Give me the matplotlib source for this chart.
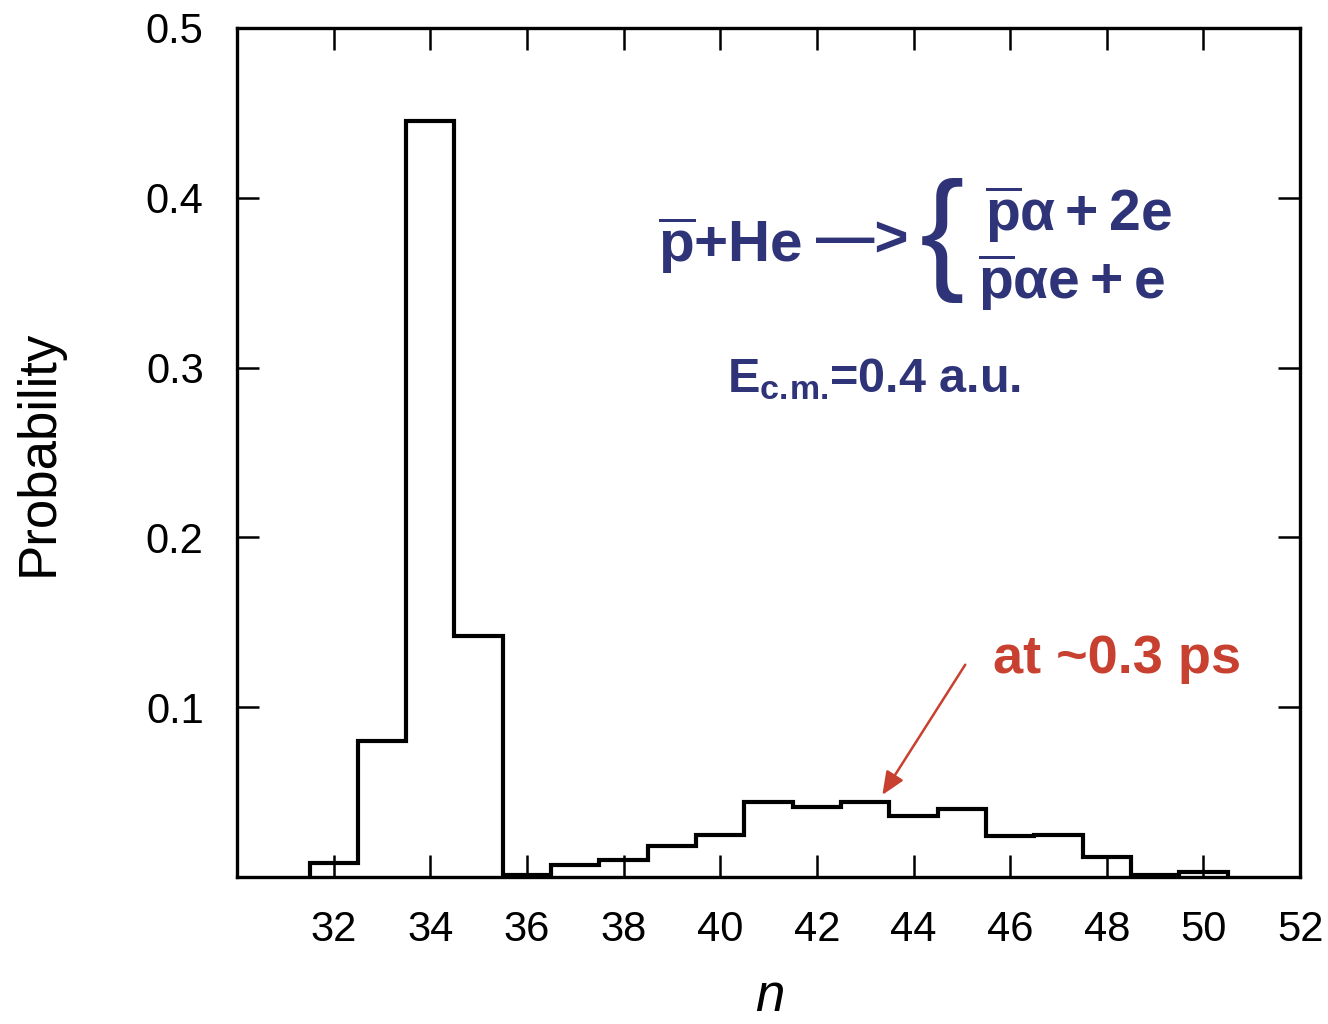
import numpy as np
import matplotlib
matplotlib.use('Agg')
import matplotlib.pyplot as plt

plt.rcParams['font.family'] = ['Liberation Sans', 'DejaVu Sans']
plt.rcParams['mathtext.fontset'] = 'custom'
plt.rcParams['mathtext.rm'] = 'Liberation Sans:bold'
plt.rcParams['mathtext.bf'] = 'Liberation Sans:bold'
plt.rcParams['mathtext.it'] = 'Liberation Sans:bold'

# histogram of final n (bins centred on integers)
n_vals = [32, 33, 34, 35, 36, 37, 38, 39, 40, 41, 42, 43, 44, 45, 46, 47, 48, 49, 50]
prob = [0.008, 0.080, 0.445, 0.142, 0.001, 0.007, 0.010, 0.018, 0.025, 0.044,
        0.041, 0.044, 0.036, 0.040, 0.024, 0.025, 0.012, 0.001, 0.003]
xticks = [32, 34, 36, 38, 40, 42, 44, 46, 48, 50, 52]
yticks = [0.1, 0.2, 0.3, 0.4, 0.5]

navy = '#2f3479'
red = '#c8402f'

fig = plt.figure(figsize=(13.28, 10.24), dpi=100)
ax = fig.add_axes([0.1785, 0.1436, 0.8005, 0.8291])

edges = np.append(np.array(n_vals) - 0.5, n_vals[-1] + 0.5)
ax.stairs(prob, edges, baseline=0, color='black', lw=3)

ax.set_xlim(30, 52)
ax.set_ylim(0, 0.5)
ax.set_xticks(xticks)
ax.set_xticklabels([str(t) for t in xticks])
ax.set_yticks(yticks)
ax.set_yticklabels(['0.1', '0.2', '0.3', '0.4', '0.5'])
ax.tick_params(direction='in', length=16, width=1.8, top=True, right=True,
               labelsize=30, pad=24)
for s in ax.spines.values():
    s.set_linewidth(2.4)

ax.set_ylabel('Probability', fontsize=38)
ax.yaxis.set_label_coords(-0.163, 0.5)
ax.set_xlabel('n', fontsize=38, style='italic')
ax.xaxis.set_label_coords(0.501, -0.112)

# reaction text
ax.text(0.396, 0.724, r'$\overline{\mathrm{p}}$+He', transform=ax.transAxes,
        fontsize=42, color=navy, fontweight='bold', va='baseline')
ax.text(0.545, 0.748, '\u2014>', transform=ax.transAxes,
        fontsize=42, color=navy, fontweight='bold', va='center')
ax.text(0.663, 0.750, '{', transform=ax.transAxes,
        fontsize=96, color=navy, va='center', ha='center')
ax.text(0.704, 0.760, r'$\overline{\mathrm{p}}\alpha+2\mathrm{e}$', transform=ax.transAxes,
        fontsize=41, color=navy, va='baseline')
ax.text(0.697, 0.680, r'$\overline{\mathrm{p}}\alpha\mathrm{e}+\mathrm{e}$', transform=ax.transAxes,
        fontsize=41, color=navy, va='baseline')
ax.text(0.461, 0.571, r'E$_{\mathrm{c{.}\!m{.}}}\!$=0.4 a.u.', transform=ax.transAxes,
        fontsize=35, color=navy, fontweight='bold', va='baseline')

ax.text(0.711, 0.240, 'at ~0.3 ps', transform=ax.transAxes,
        fontsize=39, color=red, fontweight='bold', va='baseline')
ax.annotate('', xy=(0.607, 0.0966), xytext=(0.685, 0.250),
            xycoords='axes fraction', textcoords='axes fraction',
            arrowprops=dict(arrowstyle='-|>,head_length=1.4,head_width=0.6',
                            color=red, lw=1.8, shrinkA=0, shrinkB=0))

plt.savefig('out.png', dpi=100)
